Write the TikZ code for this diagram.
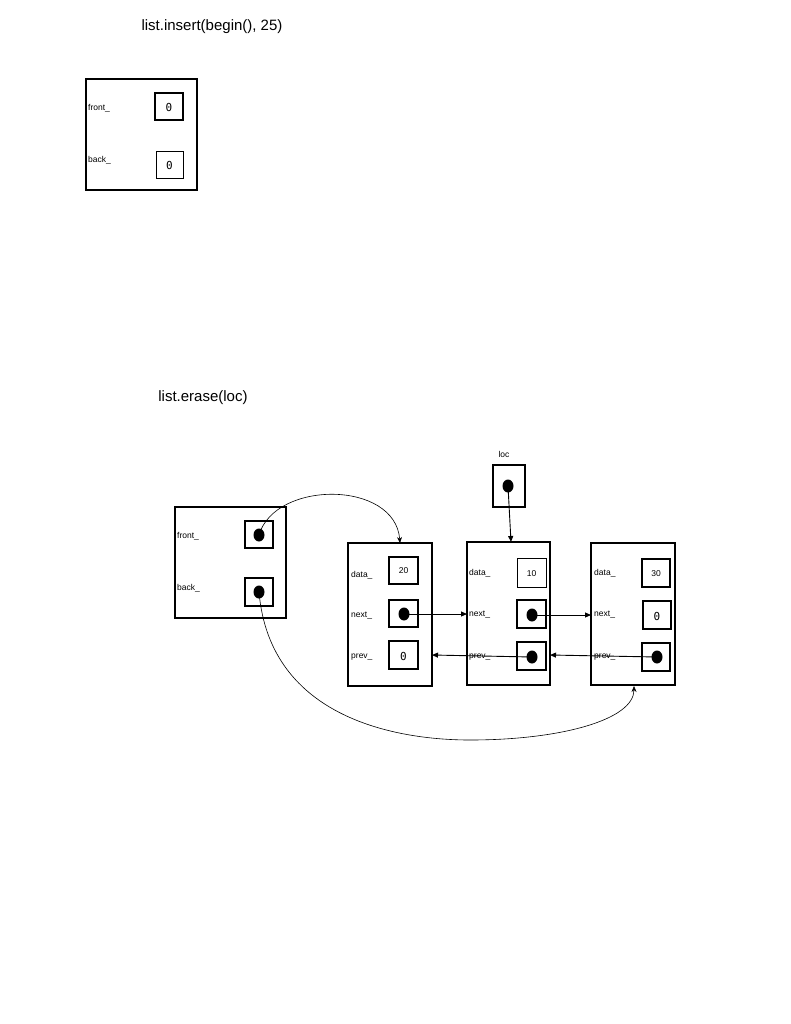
\documentclass[tikz,border=0pt]{standalone}
\usepackage{fontspec}
\setmainfont{Liberation Sans}
\setmonofont{DejaVu Sans Mono}
\usetikzlibrary{arrows.meta,shapes.geometric}
\begin{document}
\begin{tikzpicture}[x=1pt,y=-1pt,
  box/.style={draw,line width=1.3pt},
  lbl/.style={anchor=west,inner sep=0pt,font=\fontsize{8.5}{10}\selectfont},
  dot/.style={fill=black,ellipse,minimum width=11pt,minimum height=13pt,inner sep=0pt},
  ptr/.style={-{Triangle[length=6pt,width=5pt]},line width=0.9pt},
  cptr/.style={-{Stealth[length=6pt,width=5pt]},line width=0.6pt},
  num/.style={font=\fontsize{8.5}{10}\selectfont},
  zero/.style={font=\ttfamily\fontsize{11}{12}\selectfont}]
\useasboundingbox (0,0) rectangle (791,1024);
\node (t1) at (212,27) {\fontsize{15}{18}\selectfont list.insert(begin(), 25)};
\draw[box] (86,79) rectangle (197,190);
\node[lbl] (f1) at (88,108) {front\_};
\node[lbl] (b1) at (88,160) {back\_};
\draw[box] (155,93) rectangle (183,120); \node[zero] (z1) at (169,107) {0};
\draw[box,line width=0.8pt] (156,151) rectangle (183,178); \node[zero] (z2) at (169.5,165) {0};

\node (t2) at (203,398) {\fontsize{15}{18}\selectfont list.erase(loc)};
% list object
\draw[box] (175,507) rectangle (286,618);
\node[lbl] (f2) at (177,536) {front\_};
\node[lbl] (b2) at (177,588) {back\_};
\draw[box] (245,521) rectangle (273,548); \node[dot] (fd) at (259,535) {};
\draw[box] (245,578) rectangle (273,606); \node[dot] (bd) at (259,592) {};
% loc
\node[lbl,anchor=center] (locl) at (504,454) {loc};
\draw[box] (493,465) rectangle (525,507); \node[dot] (ld) at (508,486) {};
% node A
\draw[box] (348,543) coordinate (Atl) rectangle (432,686);
\coordinate (Atop) at (400,543); \coordinate (Aright) at (432,655);
\node[lbl] at (351,575) {data\_}; \node[lbl] at (351,616) {next\_}; \node[lbl] at (351,657) {prev\_};
\draw[box] (389,557) rectangle (418,584); \node[num] at (403.5,571) {20};
\draw[box] (389,600) rectangle (418,627); \node[dot] (an) at (404,614) {};
\draw[box] (389,641) rectangle (418,669); \node[zero] at (403.5,656) {0};
% node B
\draw[box] (467,542) rectangle (550,685);
\coordinate (Btop) at (511,542); \coordinate (Bleft) at (467,614); \coordinate (Bright) at (550,655);
\node[lbl] at (469,573) {data\_}; \node[lbl] at (469,615) {next\_}; \node[lbl] at (469,657) {prev\_};
\draw[box,line width=0.8pt] (517,558) rectangle (546,587); \node[num] at (531.5,574) {10};
\draw[box] (517,600) rectangle (546,628); \node[dot] (bn) at (532,615) {};
\draw[box] (517,642) rectangle (546,670); \node[dot] (bp) at (532,657) {};
% node C
\draw[box] (591,543) rectangle (675,685);
\coordinate (Cleft) at (591,615); \coordinate (Cbot) at (634,686);
\node[lbl] at (594,573) {data\_}; \node[lbl] at (594,615) {next\_}; \node[lbl] at (594,657) {prev\_};
\draw[box] (642,559) rectangle (670,587); \node[num] at (656,574) {30};
\draw[box] (643,601) rectangle (671,629); \node[zero] at (657,616) {0};
\draw[box] (642,643) rectangle (670,671); \node[dot] (cp) at (657,657) {};
% arrows
\draw[ptr] (ld.center) -- (Btop);
\draw[ptr] (an.center) -- (Bleft);
\draw[ptr] (bn.center) -- (Cleft);
\draw[ptr] (bp.center) -- (Aright);
\draw[ptr] (cp.center) -- (Bright);
\draw[cptr] (fd.center) .. controls (275,480) and (395,480) .. (Atop);
\draw[cptr] (bd.center) .. controls (270,720) and (400,740) .. (470,740) .. controls (560,740) and (634,720) .. (Cbot);
\end{tikzpicture}
\end{document}
